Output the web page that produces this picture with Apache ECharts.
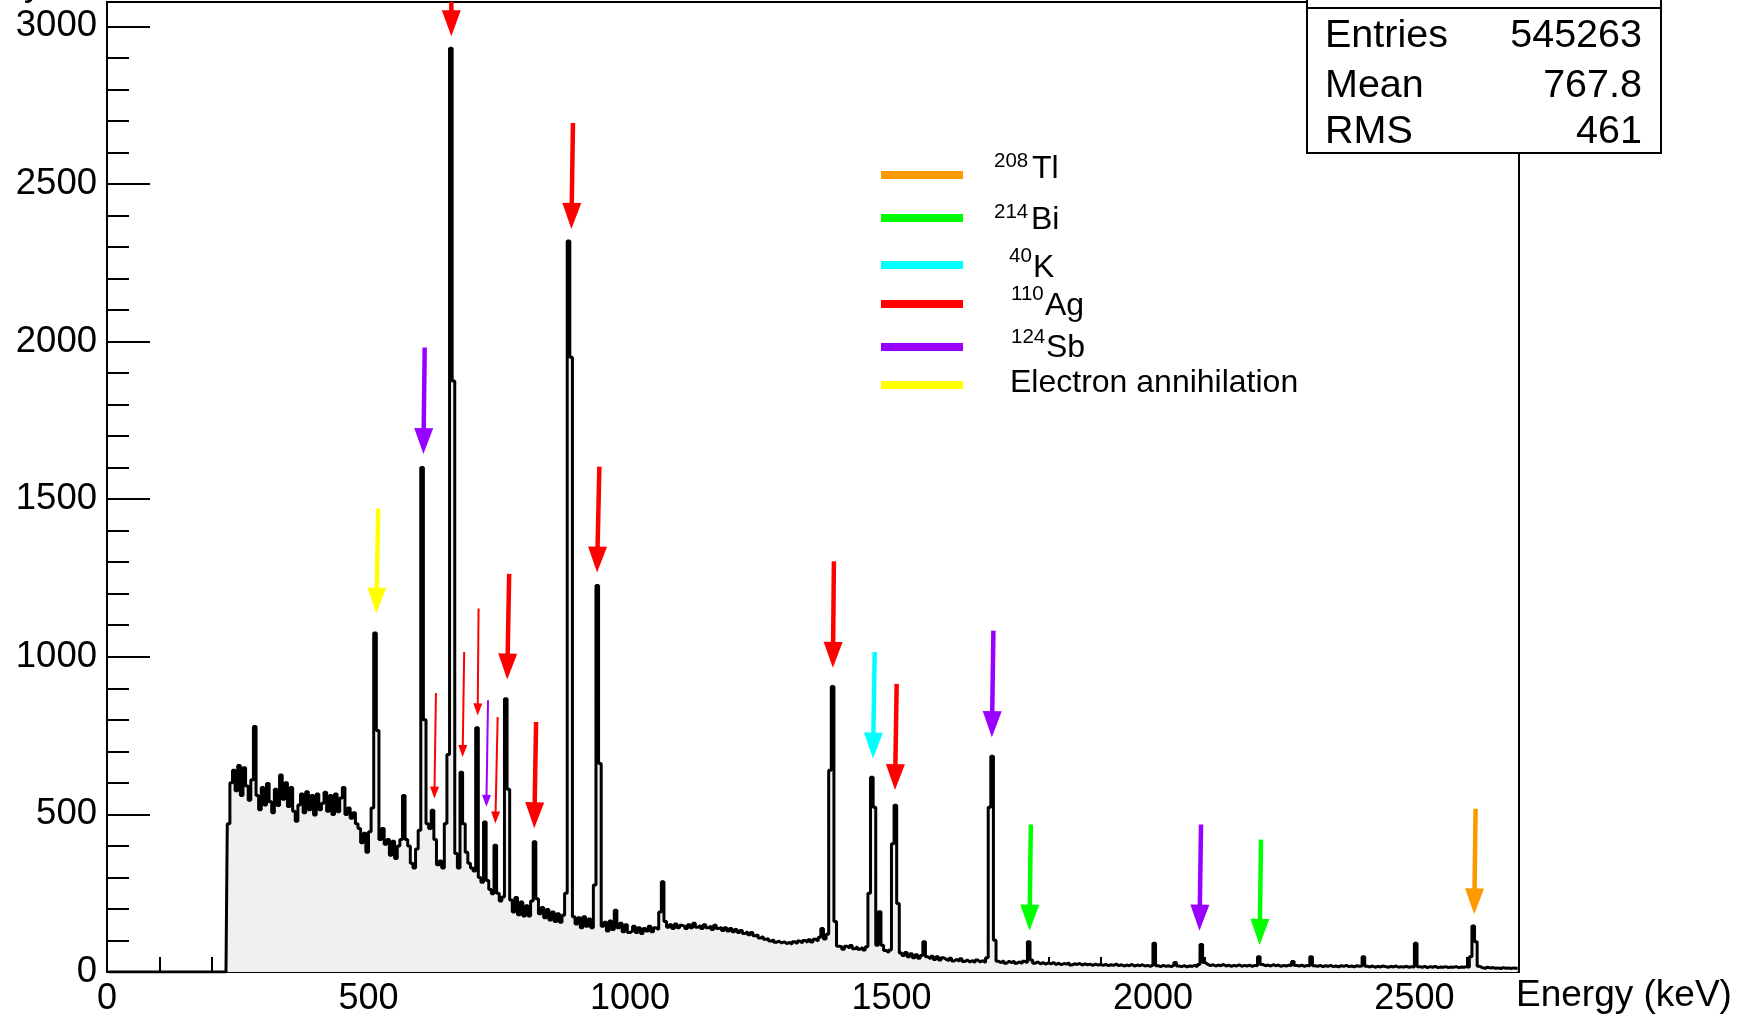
<!DOCTYPE html>
<html>
<head>
<meta charset="utf-8">
<script src="https://cdn.jsdelivr.net/npm/echarts@6/dist/echarts.min.js"></script>
<style>
  html, body { margin: 0; padding: 0; background: #ffffff; }
  #chart { width: 1739px; height: 1016px; }
</style>
</head>
<body>
<div id="chart"></div>
<script>
// Gamma-ray energy spectrum, 5 keV bins starting at 0 keV
const binWidth = 5;
const binStart = 0;
const counts = [
  0,0,0,0,0,0,0,0,0,0,0,0,0,0,0,0,0,0,0,0,
  0,0,0,0,0,0,0,0,0,0,0,0,0,0,0,0,0,0,0,0,
  0,0,0,0,0,0,470,600,640,575,655,560,648,590,545,610,779,560,515,585,
  530,598,540,505,580,528,625,548,600,525,585,510,478,530,565,505,572,515,560,498,
  565,515,535,570,510,560,500,565,508,552,585,500,520,488,505,470,455,410,440,380,
  445,520,1075,766,420,455,405,420,370,415,360,400,420,560,420,400,345,330,390,450,
  1600,800,470,455,513,420,340,352,330,471,690,2930,1875,376,330,634,470,380,345,330,
  320,775,300,285,476,290,262,248,402,250,225,238,867,580,228,190,236,182,222,178,
  210,178,225,413,232,185,205,172,198,165,190,160,185,158,180,250,2319,1950,175,152,
  172,140,175,145,168,140,276,1226,661,145,158,130,162,135,196,140,155,128,150,125,
  130,145,125,140,122,138,130,145,128,140,135,190,286,160,142,150,138,152,140,148,
  145,138,150,140,155,142,148,138,150,140,146,135,148,138,142,132,140,130,138,128,
  135,125,132,122,128,118,125,115,118,108,112,104,106,98,102,94,98,92,96,90,
  94,88,96,90,98,92,100,94,102,95,104,98,110,138,105,120,640,906,160,82,
  80,72,82,76,84,74,80,72,78,70,80,250,618,523,85,191,85,68,62,70,
  407,529,217,60,52,62,48,58,45,55,44,52,96,48,42,50,40,48,38,45,
  40,36,44,35,40,34,42,33,38,32,36,30,38,32,36,30,45,523,684,101,
  34,30,36,28,34,30,35,28,32,27,34,30,96,38,28,32,26,30,25,29,
  26,30,24,28,23,27,25,29,22,26,24,27,22,26,23,25,21,25,22,24,
  21,24,20,23,21,25,20,23,19,22,20,24,19,22,20,23,19,21,18,22,
  91,20,17,21,18,20,17,21,30,19,17,20,16,19,18,21,17,24,87,30,
  24,20,23,19,22,20,24,19,22,18,21,19,23,18,21,19,22,18,21,20,
  48,24,20,22,19,23,20,22,18,21,19,22,20,33,21,19,22,18,21,19,
  48,20,18,21,17,20,18,21,17,19,16,20,18,21,17,19,16,20,18,19,
  48,18,16,19,15,18,16,19,17,15,18,16,19,15,17,16,18,15,17,16,
  91,17,15,18,14,17,15,18,14,16,15,17,14,16,15,17,14,16,15,17,
  15,48,146,96,18,14,12,15,13,14,12,13,11,14,12,13,11,13,12,12
];

// Axis ranges and tick steps
const energyMax = 2700;
const energyMajor = 500;
const energyMinor = 100;
const countMax = 3077;
const countMajor = 500;
const countMinor = 100;
const energyTitle = 'Energy (keV)';

// Identified lines: [energy at tail, counts at tail, energy at tip, counts at tip, bold(1)/thin(0)]
const arrowsTl = [[2617, 518, 2614.4, 183, 1]];
const arrowsBi = [[1766.5, 468, 1764, 131, 1], [2206.7, 420, 2204, 86, 1]];
const arrowsK = [[1468, 1015, 1464.7, 677, 1]];
const arrowsAg = [
  [658.4, 3077, 658.4, 2968, 1], [891, 2693, 888, 2357, 1], [941.5, 1603, 937, 1267, 1],
  [769, 1263, 765.3, 928, 1], [820.5, 793, 817, 456, 1], [1390, 1303, 1388, 965, 1],
  [1510, 914, 1506.8, 577, 1],
  [629, 885, 626, 550, 0], [683, 1015, 680, 682, 0], [710.5, 1153, 708.8, 814, 0],
  [747, 809, 742.6, 471, 0]
];
const arrowsSb = [[607.5, 1981, 605, 1643, 1], [728.6, 862, 725.4, 524, 0], [1695, 1083, 1692, 745, 1], [2092, 468, 2089, 131, 1]];
const arrowsAnnihilation = [[518.7, 1470, 515, 1137, 1]];

// Legend entries
const legendSup = ['208', '214', '40', '110', '124', ''];
const legendName = ['Tl', 'Bi', 'K', 'Ag', 'Sb', 'Electron annihilation'];
const legendColor = ['#ff9900', '#00ff00', '#00ffff', '#ff0000', '#9900ff', '#ffff00'];

// Statistics box
const statNames = ['Entries', 'Mean', 'RMS'];
const statValues = ['545263', '767.8', '461'];

const FONT = '"Liberation Sans", Arial, Helvetica, sans-serif';

const spectrum = counts.map((c, i) => [binStart + (i + 0.5) * binWidth, c]);

function arrowRenderer(color) {
  return function (params, api) {
    const p0 = api.coord([api.value(0), api.value(1)]);
    const p1 = api.coord([api.value(2), api.value(3)]);
    const bold = api.value(4) === 1;
    const headLen = bold ? 26 : 12;
    const headW = bold ? 19 : 9;
    const shaftW = bold ? 4.5 : 2;
    const dx = p1[0] - p0[0], dy = p1[1] - p0[1];
    const len = Math.hypot(dx, dy) || 1;
    const ux = dx / len, uy = dy / len;
    const bx = p1[0] - ux * headLen, by = p1[1] - uy * headLen;
    const nx = -uy, ny = ux;
    return {
      type: 'group',
      children: [
        { type: 'line', shape: { x1: p0[0], y1: p0[1], x2: bx + ux * 2, y2: by + uy * 2 },
          style: { stroke: color, lineWidth: shaftW } },
        { type: 'polygon', shape: { points: [
            [p1[0], p1[1]],
            [bx + nx * headW / 2, by + ny * headW / 2],
            [bx - nx * headW / 2, by - ny * headW / 2]
          ] }, style: { fill: color } }
      ]
    };
  };
}

function arrowSeries(name, data, color) {
  return {
    name: name,
    type: 'custom',
    xAxisIndex: 0, yAxisIndex: 0,
    clip: false,
    silent: true,
    z: 5,
    renderItem: arrowRenderer(color),
    data: data
  };
}

// Legend layout
const legendLineY = [175, 218, 265, 304, 347, 385];
const legendTextY = [169, 220, 268, 306, 348, 383];
const legendSupY = [161, 212, 256, 294, 337, 0];
const legendSupX = [994, 994, 1009, 1011, 1011, 1010];
const legendNameX = [1032, 1031, 1033, 1045, 1046, 1010];

const graphics = [];
legendName.forEach((n, i) => {
  graphics.push({ type: 'rect', left: 881, top: legendLineY[i] - 4, z: 50,
    shape: { width: 82, height: 8 }, style: { fill: legendColor[i] } });
  if (legendSup[i]) {
    graphics.push({ type: 'text', x: legendSupX[i], y: legendSupY[i], z: 50,
      style: { text: legendSup[i], fontSize: 20.5, fontFamily: FONT, fill: '#000', align: 'left', verticalAlign: 'middle' } });
  }
  graphics.push({ type: 'text', x: legendNameX[i], y: legendTextY[i], z: 50,
    style: { text: n, fontSize: 32, fontFamily: FONT, fill: '#000', align: 'left', verticalAlign: 'middle' } });
});

// Title box (cut by the top edge) and statistics box
graphics.push({ type: 'rect', z: 60, shape: { x: 1307, y: -60, width: 354, height: 68 },
  style: { fill: '#fff', stroke: '#000', lineWidth: 2 } });
graphics.push({ type: 'text', x: 1482, y: -11, z: 61,
  style: { text: 'h1', fontSize: 37, fontFamily: FONT, fill: '#000', align: 'center', verticalAlign: 'middle' } });
graphics.push({ type: 'rect', z: 60, shape: { x: 1307, y: 8, width: 354, height: 145 },
  style: { fill: '#fff', stroke: '#000', lineWidth: 2 } });
const statY = [36, 86, 132];
statNames.forEach((n, i) => {
  graphics.push({ type: 'text', x: 1325, y: statY[i], z: 61,
    style: { text: n, fontSize: 39.5, fontFamily: FONT, fill: '#000', align: 'left', verticalAlign: 'middle' } });
  graphics.push({ type: 'text', x: 1642, y: statY[i], z: 61,
    style: { text: statValues[i], fontSize: 39.5, fontFamily: FONT, fill: '#000', align: 'right', verticalAlign: 'middle' } });
});
// y-axis title, mostly above the canvas
graphics.push({ type: 'text', x: 24, y: -15, z: 61,
  style: { text: 'y', fontSize: 36, fontFamily: FONT, fill: '#000', align: 'left', verticalAlign: 'middle' } });
// x-axis title, to the right of the frame
graphics.push({ type: 'text', x: 1516, y: 996, z: 61,
  style: { text: energyTitle, fontSize: 37, fontFamily: FONT, fill: '#000', align: 'left', verticalAlign: 'middle' } });

const black = '#000000';
const plainNumber = v => String(v);
const chart = echarts.init(document.getElementById('chart'), null, { renderer: 'canvas' });
chart.setOption({
  animation: false,
  backgroundColor: '#ffffff',
  grid: {
    left: 107, right: 220, top: 2, bottom: 44,
    show: true, borderColor: black, borderWidth: 2, backgroundColor: 'transparent',
    containLabel: false, outerBoundsMode: 'none'
  },
  xAxis: [
    {
      type: 'value', min: 0, max: energyMax, interval: energyMajor, position: 'bottom',
      axisLine: { show: true, onZero: false, lineStyle: { color: black, width: 2 } },
      axisTick: { show: true, inside: true, length: 29, lineStyle: { color: black, width: 2 } },
      axisLabel: { show: true, fontSize: 36, fontFamily: FONT, color: black, margin: 9,
        showMaxLabel: false, showMinLabel: true, formatter: plainNumber },
      splitLine: { show: false }, minorTick: { show: false }
    },
    {
      type: 'value', min: 0, max: energyMax, interval: energyMinor, position: 'bottom',
      axisLine: { show: false, onZero: false },
      axisTick: { show: true, inside: true, length: 15, lineStyle: { color: black, width: 2 } },
      axisLabel: { show: false }, splitLine: { show: false }
    }
  ],
  yAxis: [
    {
      type: 'value', min: 0, max: countMax, interval: countMajor, position: 'left',
      axisLine: { show: true, onZero: false, lineStyle: { color: black, width: 2 } },
      axisTick: { show: true, inside: true, length: 43, lineStyle: { color: black, width: 2 } },
      axisLabel: { show: true, fontSize: 36.5, fontFamily: FONT, color: black, margin: 10,
        showMaxLabel: false, showMinLabel: true, formatter: plainNumber },
      splitLine: { show: false }, minorTick: { show: false }
    },
    {
      type: 'value', min: 0, max: countMax, interval: countMinor, position: 'left',
      axisLine: { show: false, onZero: false },
      axisTick: { show: true, inside: true, length: 22, lineStyle: { color: black, width: 2 } },
      axisLabel: { show: false }, splitLine: { show: false }
    }
  ],
  series: [
    {
      name: 'spectrum', type: 'line', xAxisIndex: 0, yAxisIndex: 0,
      data: spectrum, step: 'middle', showSymbol: false, symbol: 'none',
      sampling: null, silent: true, z: 3,
      lineStyle: { color: black, width: 3 },
      areaStyle: { color: '#f0f0f0', opacity: 1 }
    },
    arrowSeries('208Tl', arrowsTl, legendColor[0]),
    arrowSeries('214Bi', arrowsBi, legendColor[1]),
    arrowSeries('40K', arrowsK, legendColor[2]),
    arrowSeries('110Ag', arrowsAg, legendColor[3]),
    arrowSeries('124Sb', arrowsSb, legendColor[4]),
    arrowSeries('Electron annihilation', arrowsAnnihilation, legendColor[5])
  ],
  graphic: graphics
});
</script>
</body>
</html>
